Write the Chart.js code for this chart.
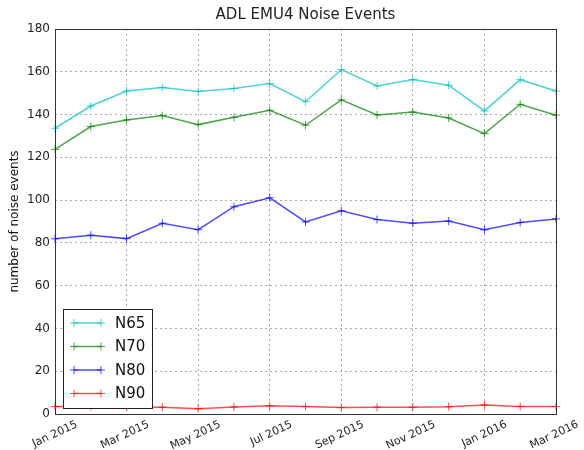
<!DOCTYPE html>
<html><head><meta charset="utf-8">
<script src="https://cdn.jsdelivr.net/npm/chart.js@4.4.0/dist/chart.umd.min.js"></script>
<style>html,body{margin:0;padding:0;background:#fff}</style>
</head><body>
<canvas id="c" width="584" height="450"></canvas>
<script>
const months = ['Jan 2015','Feb 2015','Mar 2015','Apr 2015','May 2015','Jun 2015','Jul 2015','Aug 2015','Sep 2015','Oct 2015','Nov 2015','Dec 2015','Jan 2016','Feb 2016','Mar 2016'];
const shownTicks = ['Jan 2015','Mar 2015','May 2015','Jul 2015','Sep 2015','Nov 2015','Jan 2016','Mar 2016'];
const yTicks = [0,20,40,60,80,100,120,140,160,180];
const n65 = [133.6,144,151,152.7,150.8,152.2,154.5,146,161,153.4,156.4,153.7,141.7,156.3,151];
const n70 = [123.7,134.4,137.5,139.5,135.3,138.7,142,135,146.9,139.8,141.2,138.4,131.1,144.8,139.7];
const n80 = [81.9,83.6,82,89.2,86.2,96.9,101.1,89.8,95,90.9,89.2,90.2,86.1,89.5,91.2];
const n90 = [3.5,3.5,3.3,3.2,2.5,3.3,3.8,3.5,3.0,3.2,3.2,3.4,4.2,3.5,3.5];
const seriesNames = ['N65','N70','N80','N90'];
const seriesColors = ['rgba(0,191,191,0.7)','rgba(0,128,0,0.7)','rgba(0,0,255,0.7)','rgba(255,0,0,0.7)'];
const seriesData = [n65,n70,n80,n90];

const FONT = '"DejaVu Sans", sans-serif';

const datasets = seriesData.map((d,i)=>({
  label: seriesNames[i], data: d,
  borderColor: seriesColors[i], backgroundColor: seriesColors[i],
  borderWidth: 1.5, pointStyle: 'cross', pointRadius: 4, pointBorderWidth: 1,
  pointBorderColor: seriesColors[i], tension: 0, fill: false
}));

const framePlugin = {
  id: 'frame',
  afterDraw(chart) {
    const {ctx, chartArea: a} = chart;
    ctx.save();
    ctx.strokeStyle = '#333';
    ctx.lineWidth = 1;
    ctx.strokeRect(a.left + 0.5, a.top + 0.5, a.right - a.left, a.bottom - a.top);
    // title
    ctx.fillStyle = '#222';
    ctx.font = '15px ' + FONT;
    ctx.textAlign = 'center';
    ctx.textBaseline = 'middle';
    ctx.fillText('ADL EMU4 Noise Events', (a.left + a.right) / 2, 15);
    // legend
    const x0 = a.left + 8, y1 = a.bottom - 6, w = 89, h = 99, y0 = y1 - h;
    ctx.fillStyle = '#fff';
    ctx.fillRect(x0, y0, w, h);
    ctx.strokeStyle = '#222';
    ctx.lineWidth = 1;
    ctx.strokeRect(x0 + 0.5, y0 + 0.5, w, h);
    seriesNames.forEach((name, i) => {
      const cy = y0 + 14 + i * 23.5;
      ctx.strokeStyle = seriesColors[i];
      ctx.lineWidth = 1.5;
      ctx.beginPath(); ctx.moveTo(x0 + 11, cy); ctx.lineTo(x0 + 38, cy); ctx.stroke();
      ctx.lineWidth = 1;
      [x0 + 11, x0 + 38].forEach(px => {
        ctx.beginPath(); ctx.moveTo(px, cy - 4); ctx.lineTo(px, cy + 4);
        ctx.moveTo(px - 4, cy); ctx.lineTo(px + 4, cy); ctx.stroke();
      });
      ctx.fillStyle = '#111';
      ctx.font = '15px ' + FONT;
      ctx.textAlign = 'left';
      ctx.fillText(name, x0 + 52, cy + 1);
    });
    ctx.restore();
  }
};

new Chart(document.getElementById('c'), {
  type: 'line',
  data: { labels: months, datasets },
  options: {
    responsive: false, animation: false,
    layout: { padding: { top: 29, right: 28, left: 0, bottom: 0 } },
    plugins: { legend: { display: false }, title: { display: false }, tooltip: { enabled: false } },
    scales: {
      x: {
        type: 'category', offset: false,
        afterFit(s) { s.height = 36; },
        grid: { color: '#aaa', drawTicks: false, lineWidth: 1 },
        border: { display: false, dash: [2, 3] },
        ticks: {
          autoSkip: false, minRotation: 25, maxRotation: 25, labelOffset: 22, padding: 4,
          color: '#222', font: { family: FONT, size: 11 },
          callback(v, i) { const l = months[i]; return shownTicks.includes(l) ? l : null; }
        }
      },
      y: {
        min: 0, max: 180,
        afterFit(s) { s.width = 55; },
        afterBuildTicks(s) { s.ticks = yTicks.map(v => ({ value: v })); },
        grid: { color: '#aaa', drawTicks: false, lineWidth: 1 },
        border: { display: false, dash: [2, 3] },
        ticks: { color: '#222', font: { family: FONT, size: 12 }, padding: 5 },
        title: { display: true, text: 'number of noise events', color: '#111', font: { family: FONT, size: 12 }, padding: { top: 8, bottom: 4 } }
      }
    }
  },
  plugins: [framePlugin]
});
</script>
</body></html>
